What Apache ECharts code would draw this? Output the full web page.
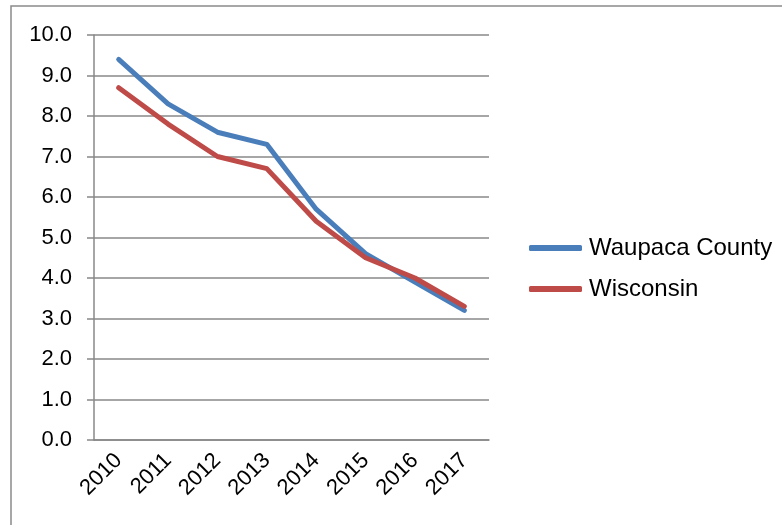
<!DOCTYPE html>
<html>
<head>
<meta charset="utf-8">
<script src="https://cdn.jsdelivr.net/npm/echarts@6/dist/echarts.min.js"></script>
<style>
  html, body { margin: 0; padding: 0; background: #fff; }
  #chart { width: 782px; height: 525px; }
</style>
</head>
<body>
<div id="chart"></div>
<script>
const years = ['2010', '2011', '2012', '2013', '2014', '2015', '2016', '2017']
const waupaca = [9.4, 8.3, 7.6, 7.3, 5.7, 4.6, 3.9, 3.2]
const wisconsin = [8.7, 7.8, 7.0, 6.7, 5.4, 4.5, 4.0, 3.3]

const chart = echarts.init(document.getElementById('chart'))
const gridColor = '#888888'
const font = 'Liberation Sans, Arial, sans-serif'

chart.setOption({
  animation: false,
  textStyle: { fontFamily: font },
  graphic: [{
    type: 'rect',
    shape: { x: 11, y: 6, width: 900, height: 700 },
    style: { fill: 'none', stroke: '#8a8a8a', lineWidth: 1.5 },
    silent: true
  }],
  grid: { left: 94, top: 35, right: 293, bottom: 85 },
  legend: {
    orient: 'vertical',
    left: 524,
    top: 231,
    icon: 'roundRect',
    itemWidth: 53,
    itemHeight: 6,
    itemGap: 17,
    textStyle: { fontSize: 24, color: '#000', fontFamily: font, padding: [0, 0, 0, 2] },
    data: ['Waupaca County', 'Wisconsin']
  },
  xAxis: {
    type: 'category',
    data: years,
    boundaryGap: true,
    axisLine: { lineStyle: { color: gridColor, width: 1.5 } },
    axisTick: { length: 7, lineStyle: { color: gridColor, width: 1.5 } },
    axisLabel: { rotate: 45, margin: 17, fontSize: 22, color: '#000', fontFamily: font, interval: 0 }
  },
  yAxis: {
    type: 'value',
    min: 0,
    max: 10,
    interval: 1,
    axisLine: { show: true, lineStyle: { color: gridColor, width: 1.5 } },
    axisTick: { show: true, length: 7, lineStyle: { color: gridColor, width: 1.5 } },
    splitLine: { lineStyle: { color: gridColor, width: 1.5 } },
    axisLabel: { margin: 22, fontSize: 22, color: '#000', fontFamily: font, formatter: v => v.toFixed(1) }
  },
  series: [{
    name: 'Waupaca County',
    type: 'line',
    data: waupaca,
    showSymbol: false,
    color: '#4A7EBB',
    lineStyle: { width: 5, cap: 'round', join: 'round' }
  }, {
    name: 'Wisconsin',
    type: 'line',
    data: wisconsin,
    showSymbol: false,
    color: '#BE4B48',
    lineStyle: { width: 5, cap: 'round', join: 'round' }
  }]
})
</script>
</body>
</html>
